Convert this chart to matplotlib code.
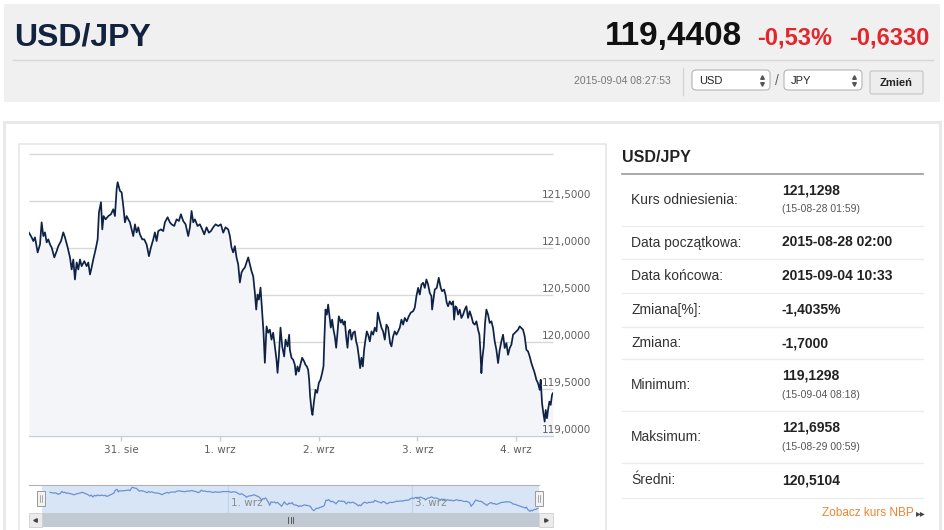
import matplotlib.pyplot as plt
from matplotlib.patches import Rectangle, FancyBboxPatch

plt.rcParams['font.family'] = ['Liberation Sans', 'DejaVu Sans']

# kurs USD/JPY, x = godziny od 31. sie 00:00 (os bez weekendu)
hours = [
    -22.33, -21.68, -21.28, -20.87, -20.23, -19.66, -19.26, -18.85, -18.45, -18.04,
    -17.64, -17.23, -16.83, -16.18, -15.61, -15.21, -14.56, -14.00, -13.59, -12.94,
    -12.38, -11.97, -11.57, -11.17, -10.76, -10.36, -9.95, -9.55, -8.90, -8.33,
    -7.93, -7.52, -7.12, -6.72, -6.15, -5.66, -5.34, -4.85, -4.53, -4.21,
    -3.72, -3.07, -2.43, -1.86, -1.46, -1.05, -0.81, -0.24, 0.16, 0.57,
    0.97, 1.38, 1.78, 2.18, 2.59, 2.99, 3.40, 3.80, 4.21, 4.61,
    5.18, 5.66, 6.23, 6.80, 7.28, 7.85, 8.25,
    8.66, 9.06, 9.71, 10.27, 10.68, 11.33, 11.89, 12.30, 12.94, 13.51,
    14.08, 14.56, 15.13, 15.70, 16.34, 16.75, 17.15, 17.56, 17.96, 18.61,
    19.17, 19.74, 20.23, 20.79, 21.36, 21.84, 22.41, 22.98, 23.62, 24.27,
    24.84, 25.40, 26.05, 26.46, 26.86, 27.26, 27.67, 28.07, 28.48, 28.88,
    29.29, 29.69, 30.10, 30.50, 30.91, 31.31, 31.72, 32.12, 32.52, 32.85,
    33.17, 33.50, 33.90, 34.30, 34.63, 34.95, 35.36, 35.76, 36.17, 36.57,
    36.97, 37.38, 37.78, 38.03, 38.35, 38.75, 39.16, 39.64, 39.97, 40.45,
    40.86,
    41.02, 41.42, 41.83, 42.23, 42.48, 42.88, 43.20, 43.69, 44.01, 44.50,
    44.82, 45.15, 45.47, 45.71, 45.95, 46.28, 46.52, 46.84, 47.25, 47.65,
    48.06, 48.46, 48.87, 49.19, 49.43, 49.68, 50.00, 50.32, 50.65, 50.97,
    51.29, 51.62, 51.94, 52.27, 52.59, 52.91, 53.40, 53.72, 54.05, 54.37,
    54.69, 55.02, 55.34, 55.66, 55.99, 56.39, 56.80, 57.12, 57.44, 57.77,
    58.09, 58.41, 58.74, 59.06, 59.39, 59.71, 60.03, 60.44, 60.84, 61.25,
    61.65, 62.06, 62.38, 62.78, 63.27, 63.67, 64.08, 64.48, 64.89, 65.37,
    65.70, 66.10, 66.50, 66.91, 67.31, 67.72, 68.12, 68.53, 68.93, 69.42,
    69.90, 70.39, 70.95, 71.36,
    71.76, 72.17, 72.57, 72.98, 73.38, 73.79, 74.19, 74.60, 75.00, 75.40,
    75.57, 75.89, 76.21, 76.70, 77.18, 77.67, 77.99, 78.48, 78.80, 79.13,
    79.45, 79.85, 80.26, 80.66, 80.91, 81.23, 81.55, 81.88, 82.28, 82.69,
    83.09, 83.50, 83.90, 84.30, 84.71, 85.11, 85.52, 85.92, 86.33, 86.73,
    87.06, 87.30, 87.54, 87.78, 88.11, 88.43, 88.75, 89.16, 89.56, 89.97,
    90.37, 90.78, 91.18, 91.59, 91.99, 92.39, 92.80, 93.20, 93.61, 94.01,
    94.42, 94.82, 95.23, 95.63, 96.04, 96.44, 96.84, 97.25, 97.65, 98.06,
    98.46, 98.87, 99.27, 99.68, 100.08, 100.49, 100.89, 101.29, 101.70, 101.94,
    102.27, 102.59, 102.91, 103.16, 103.48, 103.72, 104.05, 104.37, 104.69, 104.93,
]
prices = [
    121.163, 121.113, 121.074, 121.113, 120.953, 121.038, 121.273, 121.127, 121.166, 121.060,
    121.092, 121.038, 121.006, 120.900, 120.967, 121.020, 121.074, 121.166, 121.113, 121.006,
    120.900, 120.772, 120.878, 120.665, 120.846, 120.772, 120.878, 120.807, 120.860, 120.807,
    120.846, 120.718, 120.793, 120.878, 120.985, 121.092, 121.380, 121.487, 121.198, 121.340,
    121.305, 121.340, 121.359, 121.412, 121.340, 121.625, 121.700, 121.607, 121.593, 121.447,
    121.273, 121.340, 121.305, 121.273, 121.198, 121.127, 121.252, 121.166, 121.220, 121.145,
    121.092, 121.092, 121.038, 120.913, 121.006, 121.092, 121.166,
    121.074, 121.180, 121.198, 121.180, 121.273, 121.327, 121.273, 121.252, 121.234, 121.305,
    121.287, 121.359, 121.287, 121.252, 121.127, 121.220, 121.394, 121.273, 121.305, 121.234,
    121.252, 121.198, 121.145, 121.220, 121.163, 121.180, 121.220, 121.252, 121.234, 121.252,
    121.163, 121.220, 121.198, 121.127, 121.003, 120.953, 121.020, 120.900, 120.825, 120.633,
    120.740, 120.772, 120.793, 120.846, 120.900, 120.825, 120.753, 120.700, 120.526, 120.345,
    120.505, 120.451, 120.579, 120.313, 120.099, 119.779, 120.166, 120.099, 120.131, 120.025,
    120.099, 119.953, 119.811, 119.672, 119.846, 120.153, 119.953, 119.846, 120.025, 119.953,
    120.078,
    119.918, 119.832, 119.811, 119.758, 119.651, 119.740, 119.686, 119.779, 119.832, 119.793,
    119.758, 119.740, 119.704, 119.598, 119.419, 119.277, 119.224, 119.352, 119.491, 119.459,
    119.566, 119.598, 119.672, 119.740, 120.060, 120.345, 120.291, 120.398, 120.273, 120.153,
    120.238, 120.131, 120.060, 119.939, 120.099, 120.273, 120.206, 120.238, 120.185, 120.220,
    120.060, 119.939, 120.113, 120.131, 120.025, 120.099, 120.113, 120.006, 119.953, 119.846,
    119.722, 119.832, 119.740, 119.918, 120.025, 120.113, 120.078, 120.006, 120.113, 120.078,
    120.153, 120.113, 120.313, 120.238, 120.153, 120.113, 120.025, 120.185, 120.153, 119.989,
    119.953, 120.060, 120.113, 120.078, 120.113, 120.153, 120.238, 120.185, 120.256, 120.220,
    120.273, 120.313, 120.327, 120.366,
    120.487, 120.576, 120.505, 120.611, 120.630, 120.576, 120.665, 120.611, 120.523, 120.487,
    120.345, 120.451, 120.558, 120.576, 120.683, 120.576, 120.540, 120.558, 120.505, 120.416,
    120.380, 120.433, 120.398, 120.433, 120.238, 120.380, 120.363, 120.291, 120.345, 120.256,
    120.291, 120.345, 120.380, 120.256, 120.327, 120.273, 120.203, 120.185, 120.220, 120.131,
    120.078, 119.900, 119.669, 119.829, 119.953, 120.203, 120.345, 120.291, 120.203, 120.220,
    120.149, 120.006, 119.918, 119.776, 119.918, 120.006, 120.078, 119.936, 119.989, 119.864,
    119.936, 119.971, 120.078, 120.096, 120.113, 120.131, 120.166, 120.149, 120.131, 120.060,
    119.918, 119.900, 119.846, 119.776, 119.722, 119.669, 119.598, 119.562, 119.491, 119.598,
    119.349, 119.242, 119.153, 119.277, 119.189, 119.277, 119.366, 119.331, 119.438, 119.456,
]

day_hours = [0, 24, 48, 72, 96]
day_labels = ['31. sie', '1. wrz', '2. wrz', '3. wrz', '4. wrz']
nav_hours = [24, 72]
nav_labels = ['1. wrz', '3. wrz']
y_levels = [119.0, 119.5, 120.0, 120.5, 121.0, 121.5, 122.0]

pair = 'USD/JPY'
last_price = 119.4408
change_pct = -0.53
change_abs = -0.6330
stamp = '2015-09-04 08:27:53'

row_labels = ['Kurs odniesienia:', 'Data początkowa:', 'Data końcowa:', 'Zmiana[%]:',
              'Zmiana:', 'Minimum:', 'Maksimum:', 'Średni:']
row_values = ['121,1298', '2015-08-28 02:00', '2015-09-04 10:33', '-1,4035%',
              '-1,7000', '119,1298', '121,6958', '120,5104']
row_notes = ['(15-08-28 01:59)', '', '', '', '', '(15-09-04 08:18)', '(15-08-29 00:59)', '']
row_lines = [173.5, 226, 259, 292.7, 326.7, 359.3, 411, 463.3, 497.7]


def pl(v, d):
    return f"{v:.{d}f}".replace('.', ',')


W, H = 945, 530
fig = plt.figure(figsize=(9.45, 5.30), dpi=100)

# warstwa tla (wspolrzedne w pikselach, y w dol)
ui = fig.add_axes([0, 0, 1, 1], zorder=0)
ui.set_xlim(0, W)
ui.set_ylim(H, 0)
ui.axis('off')

top = fig.add_axes([0, 0, 1, 1], zorder=3)
top.set_xlim(0, W)
top.set_ylim(H, 0)
top.axis('off')


def box(a, x0, y0, x1, y1, fc, ec='none', lw=0):
    a.add_patch(Rectangle((x0, y0), x1 - x0, y1 - y0, facecolor=fc, edgecolor=ec, linewidth=lw))


def rbox(a, x0, y0, x1, y1, fc, ec, r):
    a.add_patch(FancyBboxPatch((x0, y0), x1 - x0, y1 - y0,
                               boxstyle=f'round,pad=0,rounding_size={r}',
                               facecolor=fc, edgecolor=ec, linewidth=0.8))


# naglowek
box(ui, 4, 4, 940, 102, '#f0f0f0')
ui.plot([13, 933], [60, 60], color='#d6d6d6', lw=1)
ui.text(14, 45, pair, fontsize=23, fontweight='bold', color='#13233f', va='baseline')
ui.text(742, 45, pl(last_price, 4), fontsize=24, fontweight='bold', color='#111111',
        ha='right', va='baseline')
ui.text(757, 45, pl(change_pct, 2) + '%', fontsize=17, fontweight='bold', color='#e3262c',
        va='baseline')
ui.text(929, 45, pl(change_abs, 4), fontsize=17, fontweight='bold', color='#e3262c',
        ha='right', va='baseline')
ui.text(671, 81.5, stamp, fontsize=7.5, color='#777777', ha='right', va='center')
ui.plot([683, 683], [68, 95], color='#d4d4d4', lw=1)

for x0, cur in [(692, 'USD'), (784, 'JPY')]:
    rbox(ui, x0, 70, x0 + 78, 90, 'white', '#b5b5b5', 4)
    ui.text(x0 + 7, 80.5, cur, fontsize=8, color='#222222', va='center')
    ui.plot(x0 + 70, 77, marker='^', ms=2.6, color='#555555')
    ui.plot(x0 + 70, 83.5, marker='v', ms=2.6, color='#555555')
ui.text(777, 81, '/', fontsize=10, color='#666666', ha='center', va='center')
rbox(ui, 870, 71, 923, 94, '#ededed', '#c4c4c4', 2)
ui.text(896.5, 82.5, 'Zmień', fontsize=8, fontweight='bold', color='#222222',
        ha='center', va='center')

# ramki tresci
box(ui, 4, 122, 940, 535, 'white', '#e9e9e9', 2.2)
box(ui, 19, 144, 606, 540, 'white', '#e6e6e6', 1.2)

# wykres glowny
ax = fig.add_axes([29 / W, (H - 436) / H, 524 / W, 282 / H], zorder=2)
ax.patch.set_alpha(0)
ax.set_xlim(hours[0], hours[-1])
ax.set_ylim(119.0, 122.0)
ax.hlines(y_levels, hours[0], hours[-1], color='#d8d8d8', lw=1, clip_on=False, zorder=1)
ax.fill_between(hours, prices, 119.0, color='#f4f5f8', lw=0, zorder=2)
ax.plot(hours, prices, color='#0e2246', lw=1.25, zorder=3)
for s in ['top', 'left', 'right']:
    ax.spines[s].set_visible(False)
ax.spines['bottom'].set_color('#c0d0e0')
ax.spines['bottom'].set_zorder(4)
ax.set_yticks([])
ax.set_xticks(day_hours)
ax.set_xticklabels(day_labels, fontsize=7.5, color='#606060', family='DejaVu Sans')
ax.tick_params(axis='x', color='#c0d0e0', length=3.8, width=1, pad=3)
for v in y_levels[:-1]:
    ax.annotate(pl(v, 4), xy=(1.0725, v), xycoords=('axes fraction', 'data'),
                xytext=(0, 4), textcoords='offset points', ha='right', va='center',
                fontsize=7.5, color='#606060', family='DejaVu Sans')

# nawigator
nav = fig.add_axes([41.7 / W, (H - 513) / H, 497.6 / W, 28 / H], zorder=2)
nav.set_facecolor('#d7e5f6')
nav.set_xlim(-24.5, 105.3)
nav.set_ylim(118.97, 121.94)
for h in nav_hours:
    nav.axvline(h, color='#c2d3ea', lw=0.8)
nav.plot(hours, prices, color='#6b93cf', lw=0.9)
for h, lab in zip(nav_hours, nav_labels):
    nav.annotate(lab, xy=(h, 0.34), xycoords=('data', 'axes fraction'), xytext=(2.5, 0),
                 textcoords='offset points', ha='left', va='center', fontsize=7.5,
                 color='#8a8a8a', family='DejaVu Sans')
nav.set_xticks([])
nav.set_yticks([])
for s in nav.spines.values():
    s.set_visible(False)

top.plot([29, 539.3], [485, 485], color='#b2b2b2', lw=0.8)
for hx in [41, 539.3]:
    box(top, hx - 4, 491, hx + 4, 506, '#f2f2f2', '#999999', 0.7)
    for gx in [hx - 1, hx + 1]:
        top.plot([gx, gx], [495, 502], color='#8a8a8a', lw=0.5)

# pasek przewijania
box(top, 41.7, 513, 539.3, 527, '#c1c9d2')
box(top, 29, 513, 41.7, 527, '#ebebeb', '#cfcfcf', 0.6)
box(top, 539.3, 513, 553, 527, '#ebebeb', '#cfcfcf', 0.6)
top.plot(35.3, 520, marker='<', ms=2.5, color='#444444')
top.plot(546.2, 520, marker='>', ms=2.5, color='#444444')
for gx in [288, 290.5, 293]:
    top.plot([gx, gx], [517, 523], color='#444444', lw=0.6)

# panel z danymi
ui.text(622, 157, pair, fontsize=11.5, fontweight='bold', color='#222222', va='center')
ui.plot([622, 923], [row_lines[0], row_lines[0]], color='#9a9a9a', lw=1.2)
for y in row_lines[1:]:
    ui.plot([622, 923], [y, y], color='#ececec', lw=1)
for i, (lab, val, note) in enumerate(zip(row_labels, row_values, row_notes)):
    mid = (row_lines[i] + row_lines[i + 1]) / 2
    ui.text(631, mid, lab, fontsize=10, color='#333333', va='center')
    if note:
        ui.text(782, mid - 9.5, val, fontsize=10, fontweight='bold', color='#222222', va='center')
        ui.text(782, mid + 9.5, note, fontsize=7.5, color='#555555', va='center')
    else:
        ui.text(782, mid, val, fontsize=10, fontweight='bold', color='#222222', va='center')

ui.text(913.5, 513, 'Zobacz kurs NBP', fontsize=8.5, color='#f0832f', ha='right', va='center')
ui.text(916, 513, '▸▸', fontsize=7, color='#444444', ha='left', va='center',
        family='DejaVu Sans')

fig.savefig('out.png', dpi=100)
